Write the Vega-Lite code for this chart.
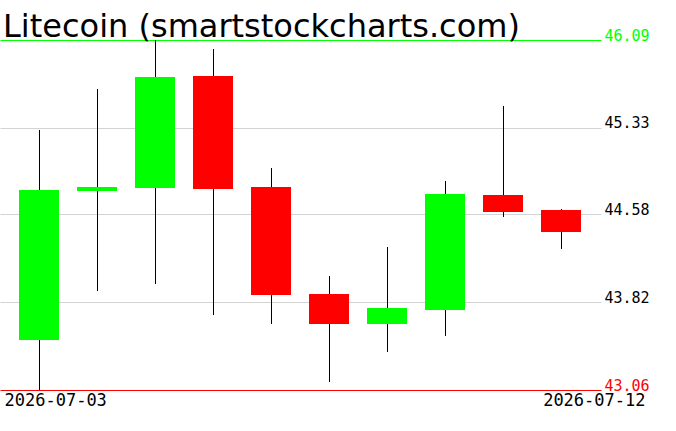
{
  "$schema": "https://vega.github.io/schema/vega-lite/v6.json",
  "autosize": "none",
  "width": 601,
  "height": 350,
  "padding": {"left": 0, "top": 40, "right": 75, "bottom": 41},
  "background": "white",
  "config": {"view": {"stroke": null}, "font": "DejaVu Sans"},
  "title": {
    "text": "Litecoin (smartstockcharts.com)",
    "anchor": "start",
    "frame": "group",
    "font": "DejaVu Sans",
    "fontSize": 32,
    "fontWeight": "normal",
    "color": "black",
    "baseline": "alphabetic",
    "offset": -41,
    "dx": 3
  },
  "data": {
    "values": [
      {"date": "2026-07-03", "open": 43.493, "high": 45.311, "low": 43.06, "close": 44.791},
      {"date": "2026-07-04", "open": 44.783, "high": 45.666, "low": 43.917, "close": 44.817},
      {"date": "2026-07-05", "open": 44.809, "high": 46.09, "low": 43.978, "close": 45.770},
      {"date": "2026-07-06", "open": 45.778, "high": 46.012, "low": 43.709, "close": 44.800},
      {"date": "2026-07-07", "open": 44.817, "high": 44.982, "low": 43.631, "close": 43.882},
      {"date": "2026-07-08", "open": 43.891, "high": 44.047, "low": 43.129, "close": 43.631},
      {"date": "2026-07-09", "open": 43.631, "high": 44.298, "low": 43.389, "close": 43.770},
      {"date": "2026-07-10", "open": 43.753, "high": 44.869, "low": 43.528, "close": 44.757},
      {"date": "2026-07-11", "open": 44.748, "high": 45.519, "low": 44.558, "close": 44.601},
      {"date": "2026-07-12", "open": 44.618, "high": 44.627, "low": 44.281, "close": 44.428}
    ]
  },
  "encoding": {
    "x": {
      "field": "date",
      "type": "temporal",
      "scale": {
        "type": "utc",
        "padding": 0,
        "domain": [
          {"year": 2026, "month": 7, "date": 2, "hours": 7, "minutes": 51, "seconds": 43, "utc": true},
          {"year": 2026, "month": 7, "date": 12, "hours": 16, "minutes": 33, "seconds": 6, "utc": true}
        ]
      },
      "axis": {
        "title": null,
        "values": [
          {"year": 2026, "month": 7, "date": 3, "utc": true},
          {"year": 2026, "month": 7, "date": 12, "utc": true}
        ],
        "labelExpr": "utcFormat(datum.value, '%Y-%m-%d')",
        "grid": false,
        "ticks": false,
        "domain": false,
        "labelOverlap": false,
        "labelBound": false,
        "labelFlush": false,
        "labelFont": "DejaVu Sans Mono",
        "labelFontSize": 17,
        "labelColor": "black",
        "labelBaseline": "top",
        "labelPadding": 2,
        "labelAlign": {"condition": {"test": "datum.index < 0.5", "value": "left"}, "value": "right"},
        "labelOffset": {"condition": {"test": "datum.index < 0.5", "value": -35}, "value": 84}
      }
    }
  },
  "layer": [
    {
      "mark": {"type": "rule", "color": "black", "strokeWidth": 1, "xOffset": 0.5},
      "encoding": {
        "y": {
          "field": "low",
          "type": "quantitative",
          "scale": {"domain": [43.06, 46.09], "zero": false, "nice": false},
          "axis": {
            "orient": "right",
            "title": null,
            "values": [43.06, 43.82, 44.58, 45.33, 46.09],
            "format": ".2f",
            "ticks": false,
            "domain": false,
            "grid": true,
            "gridWidth": 1,
            "gridColor": {
              "condition": [
                {"test": "datum.value > 46", "value": "#00ff00"},
                {"test": "datum.value < 43.1", "value": "#ff0000"}
              ],
              "value": "#d3d3d3"
            },
            "labelColor": {
              "condition": [
                {"test": "datum.value > 46", "value": "#00ff00"},
                {"test": "datum.value < 43.1", "value": "#ff0000"}
              ],
              "value": "black"
            },
            "labelFont": "DejaVu Sans Mono",
            "labelFontSize": 15,
            "labelBaseline": "alphabetic",
            "labelAlign": "left",
            "labelPadding": 3,
            "labelOverlap": false,
            "labelBound": false,
            "labelFlush": false
          }
        },
        "y2": {"field": "high"}
      }
    },
    {
      "mark": {"type": "bar", "size": 40},
      "encoding": {
        "y": {"field": "open", "type": "quantitative"},
        "y2": {"field": "close"},
        "color": {
          "condition": {"test": "datum.close >= datum.open", "value": "#00ff00"},
          "value": "#ff0000"
        }
      }
    }
  ]
}
